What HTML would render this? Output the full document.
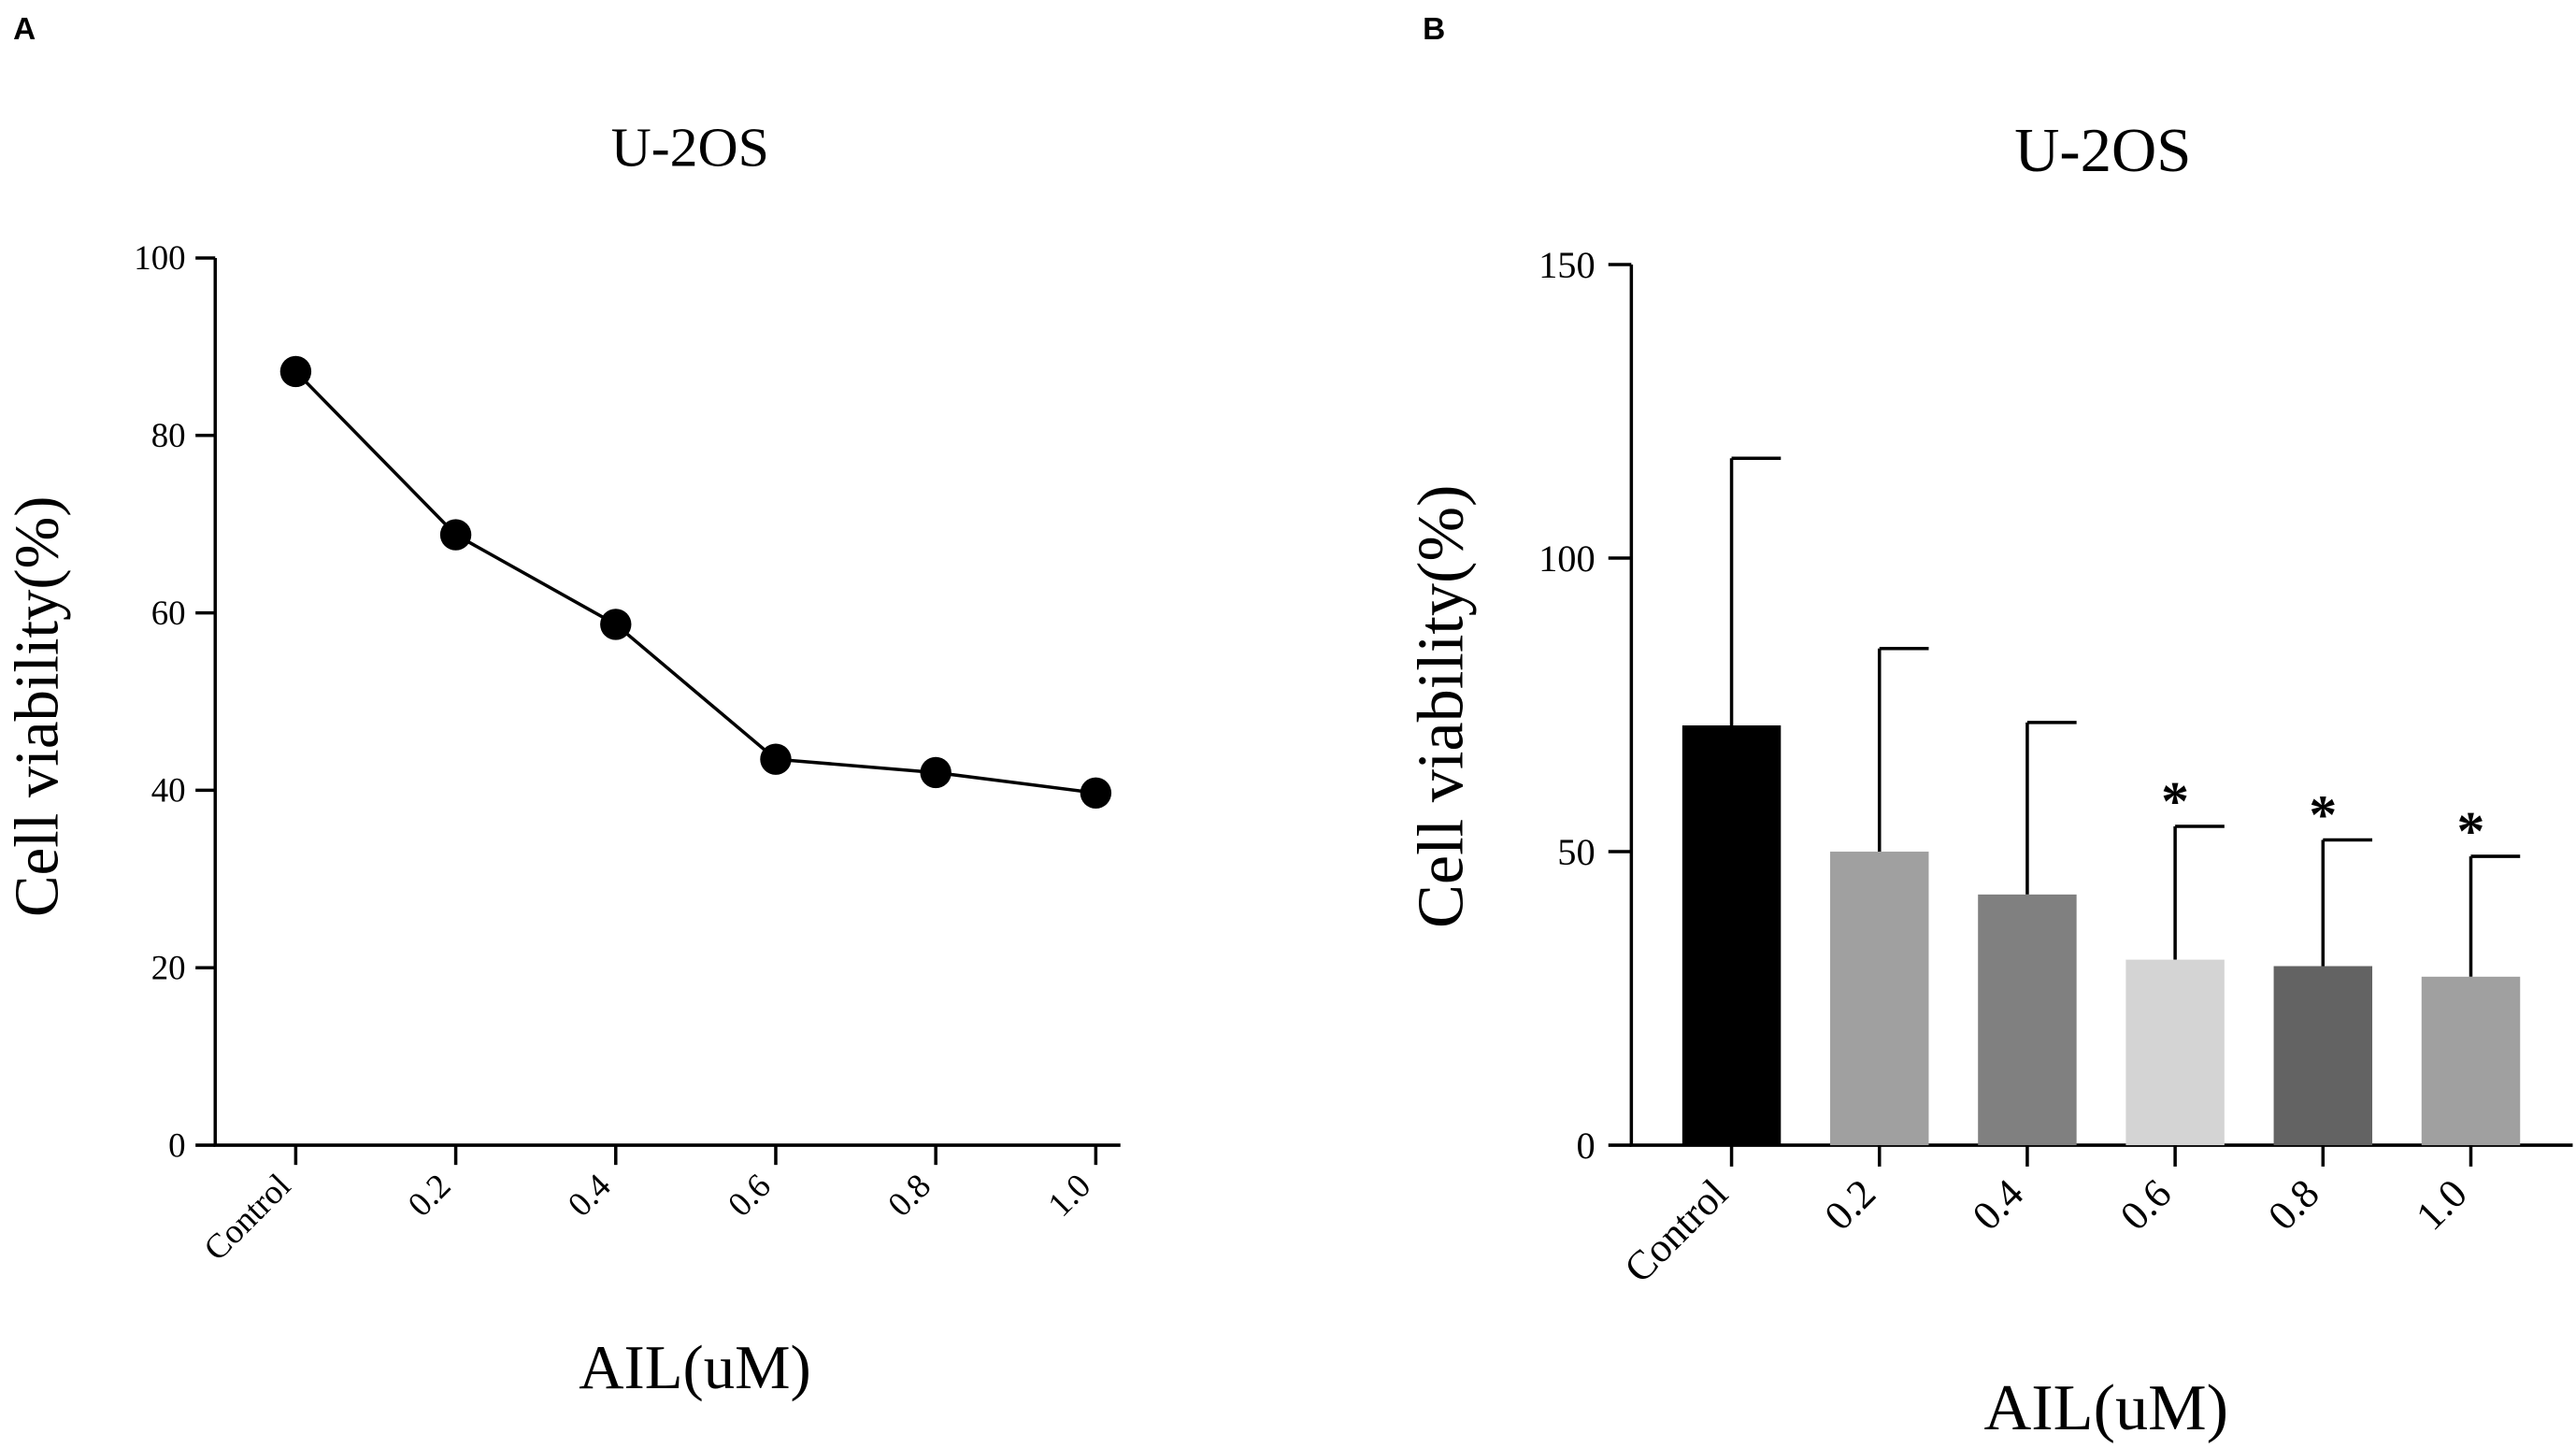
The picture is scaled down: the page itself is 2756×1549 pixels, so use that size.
<!DOCTYPE html>
<html><head><meta charset="utf-8"><style>
html,body{margin:0;padding:0;background:#fff}
svg{display:block}
text{font-family:"Liberation Serif",serif;fill:#000}
</style></head><body>
<svg id="fig" width="2756" height="1549" viewBox="0 0 1568 881.3">
<text x="8" y="24" style="font-family:'Liberation Sans',sans-serif;font-weight:bold;font-size:19px">A</text>
<text x="866" y="24" style="font-family:'Liberation Sans',sans-serif;font-weight:bold;font-size:19px">B</text>
<g id="ga"></g>
<g id="gb"></g>
</svg>
<script>
const NS="http://www.w3.org/2000/svg";
const categories=["Control","0.2","0.4","0.6","0.8","1.0"];
const lineValues=[87.2,68.8,58.7,43.5,42.0,39.7];
const lineTicks=[0,20,40,60,80,100];
const barValues=[71.5,50.0,42.7,31.6,30.5,28.7];
const barErrors=[45.5,34.6,29.3,22.7,21.5,20.5];
const barSig=[false,false,false,true,true,true];
const barTicks=[0,50,100,150];
const barColors=["#000000","#a0a0a0","#808080","#d4d4d4","#636363","#a0a0a0"];

function mk(p,tag,attrs,txt){const e=document.createElementNS(NS,tag);for(const k in attrs)e.setAttribute(k,attrs[k]);if(txt!==undefined)e.textContent=txt;p.appendChild(e);return e;}

// Panel A
(function(){
const g=document.getElementById('ga');
const x0=131,yTop=157,yBot=697,xs0=180,step=97.4;
const y=v=>yBot-(v-0)/(100-0)*(yBot-yTop);
const x=i=>xs0+i*step;
let ax=mk(g,'line',{x1:x0,y1:yTop,x2:x0,y2:yBot,stroke:'#000','stroke-width':2});

let bx=mk(g,'line',{x1:x0-1,y1:yBot,x2:x(5)+15,y2:yBot,stroke:'#000','stroke-width':2});

lineTicks.forEach(t=>{
 mk(g,'line',{x1:x0-12,y1:y(t),x2:x0,y2:y(t),stroke:'#000','stroke-width':2});
 let l=mk(g,'text',{x:x0-18,y:y(t)+7,'text-anchor':'end','font-size':21},t);
 
});
categories.forEach((c,i)=>{
 mk(g,'line',{x1:x(i),y1:yBot,x2:x(i),y2:yBot+12,stroke:'#000','stroke-width':2});
 let l=mk(g,'text',{x:x(i)-2,y:yBot+26,'text-anchor':'end','font-size':21,transform:`rotate(-45 ${x(i)-2} ${yBot+26})`},c);
 
});
let pts=lineValues.map((v,i)=>x(i)+','+y(v)).join(' ');
let pl=mk(g,'polyline',{points:pts,fill:'none',stroke:'#000','stroke-width':2});

lineValues.forEach((v,i)=>{
 let c=mk(g,'circle',{cx:x(i),cy:y(v),r:9.5,fill:'#000'});
 
});
let t=mk(g,'text',{x:420,y:101,'text-anchor':'middle','font-size':34},'U-2OS');

let xl=mk(g,'text',{x:423,y:845,'text-anchor':'middle','font-size':38},'AIL(uM)');

let yl=mk(g,'text',{x:0,y:0,'text-anchor':'middle','font-size':38,transform:'translate(35 430) rotate(-90)'},'Cell viability(%)');

})();

// Panel B
(function(){
const g=document.getElementById('gb');
const x0=993,yTop=161,yBot=697,xs0=1054,step=90,bw=60;
const y=v=>yBot-v/150*(yBot-yTop);
const x=i=>xs0+i*step;
let ax=mk(g,'line',{x1:x0,y1:yTop,x2:x0,y2:yBot,stroke:'#000','stroke-width':2});

let bx=mk(g,'line',{x1:x0-1,y1:yBot,x2:1566,y2:yBot,stroke:'#000','stroke-width':2});

barTicks.forEach(t=>{
 mk(g,'line',{x1:x0-14,y1:y(t),x2:x0,y2:y(t),stroke:'#000','stroke-width':2});
 let l=mk(g,'text',{x:x0-22,y:y(t)+8,'text-anchor':'end','font-size':23},t);
 
});
categories.forEach((c,i)=>{
 const v=barValues[i],e=barErrors[i];
 mk(g,'line',{x1:x(i),y1:y(v),x2:x(i),y2:y(v+e),stroke:'#000','stroke-width':2});
 mk(g,'line',{x1:x(i),y1:y(v+e),x2:x(i)+30,y2:y(v+e),stroke:'#000','stroke-width':2});
 let r=mk(g,'rect',{x:x(i)-bw/2,y:y(v),width:bw,height:yBot-y(v),fill:barColors[i]});
 
 if(barSig[i]){let s=mk(g,'text',{x:x(i),y:y(v+e)-4,'text-anchor':'middle','font-size':34,'font-weight':'bold'},'*');
  }
 mk(g,'line',{x1:x(i),y1:yBot,x2:x(i),y2:yBot+13,stroke:'#000','stroke-width':2});
 let l=mk(g,'text',{x:x(i)-1,y:yBot+31,'text-anchor':'end','font-size':25,transform:`rotate(-45 ${x(i)-1} ${yBot+31})`},c);
 
});
let t=mk(g,'text',{x:1280,y:104,'text-anchor':'middle','font-size':38},'U-2OS');

let xl=mk(g,'text',{x:1282,y:870,'text-anchor':'middle','font-size':40},'AIL(uM)');

let yl=mk(g,'text',{x:0,y:0,'text-anchor':'middle','font-size':40,transform:'translate(890 430) rotate(-90)'},'Cell viability(%)');

})();
</script>
</body></html>
